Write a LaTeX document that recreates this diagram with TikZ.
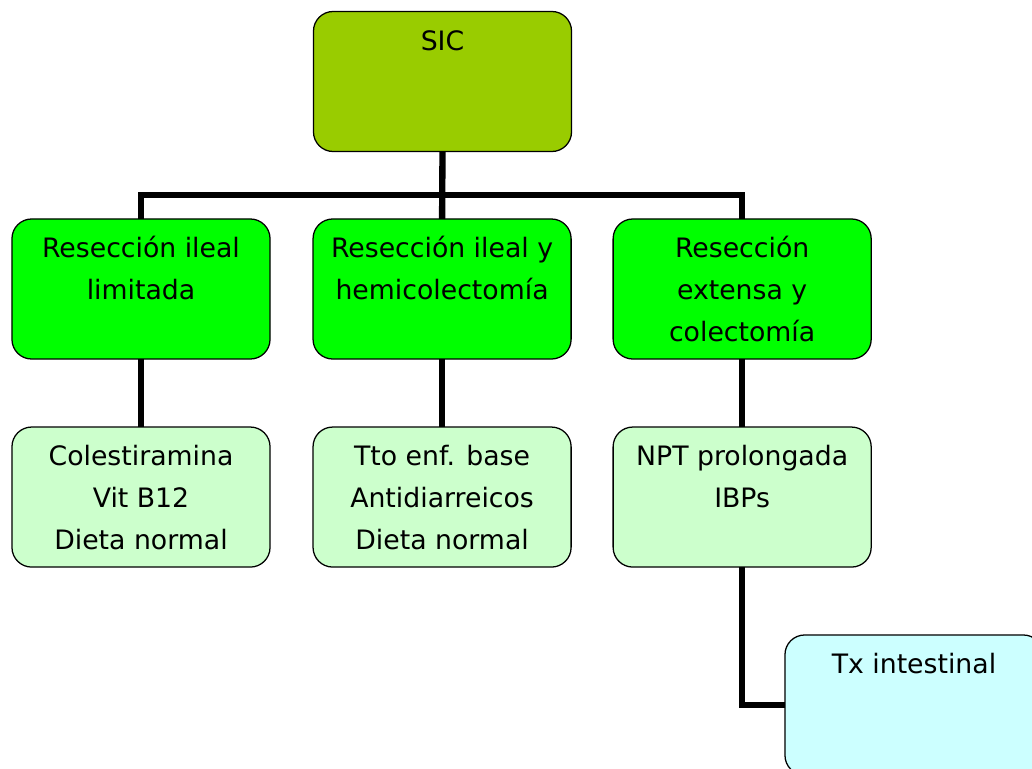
\documentclass[tikz,border=0pt]{standalone}
\usepackage{fontspec}
\setmainfont{DejaVu Sans}
\usetikzlibrary{positioning}

\definecolor{sicfill}{HTML}{99CC00}
\definecolor{resfill}{HTML}{00FF00}
\definecolor{trtfill}{HTML}{CCFFCC}
\definecolor{txfill}{HTML}{CCFFFF}

% text sits at the top of each box
\newcommand{\boxtxt}[1]{\parbox[t][3.5cm][t]{6.45cm}{\centering\rule{0pt}{27.5pt}#1}}

\begin{document}
\begin{tikzpicture}[x=0.025cm, y=-0.025cm, node distance=1.075cm,
  font=\fontsize{19}{29.8}\selectfont,
  box/.style={draw, line width=0.9pt, rounded corners=14pt, inner sep=0pt, outer sep=0pt},
  sicbox/.style={box, fill=sicfill}, resbox/.style={box, fill=resfill},
  trtbox/.style={box, fill=trtfill}, txbox/.style={box, fill=txfill},
  conn/.style={line width=4.5pt, black}]
\useasboundingbox (0,0) rectangle (1032,769);
\clip (0,0) rectangle (1032,769);
\node[sicbox] (sic) at (442.5,81.5) {\boxtxt{SIC}};
\node[resbox] (r1) at (141,289) {\boxtxt{Resección ileal\\limitada}};
\node[resbox, right=of r1] (r2) {\boxtxt{Resección ileal y\\hemicolectomía}};
\node[resbox, right=1.05cm of r2] (r3) {\boxtxt{Resección\\extensa y\\colectomía}};
\node[trtbox, below=1.7cm of r1] (t1) {\boxtxt{Colestiramina\\Vit B12\\Dieta normal}};
\node[trtbox, below=1.7cm of r2] (t2) {\boxtxt{Tto enf. base\\Antidiarreicos\\Dieta normal}};
\node[trtbox, below=1.7cm of r3] (t3) {\boxtxt{NPT prolongada\\IBPs}};
\node[txbox] (tx) at (914,705) {\boxtxt{Tx intestinal}};
\coordinate (bus) at (442,195);
\draw[conn] (sic.south) -- (r2.north);
\draw[conn] (r1.north) |- (bus) -| (r3.north);
\draw[conn] (r1.south) -- (t1.north);
\draw[conn] (r2.south) -- (t2.north);
\draw[conn] (r3.south) -- (t3.north);
\draw[conn] (t3.south) |- (tx.west);
\end{tikzpicture}
\end{document}
